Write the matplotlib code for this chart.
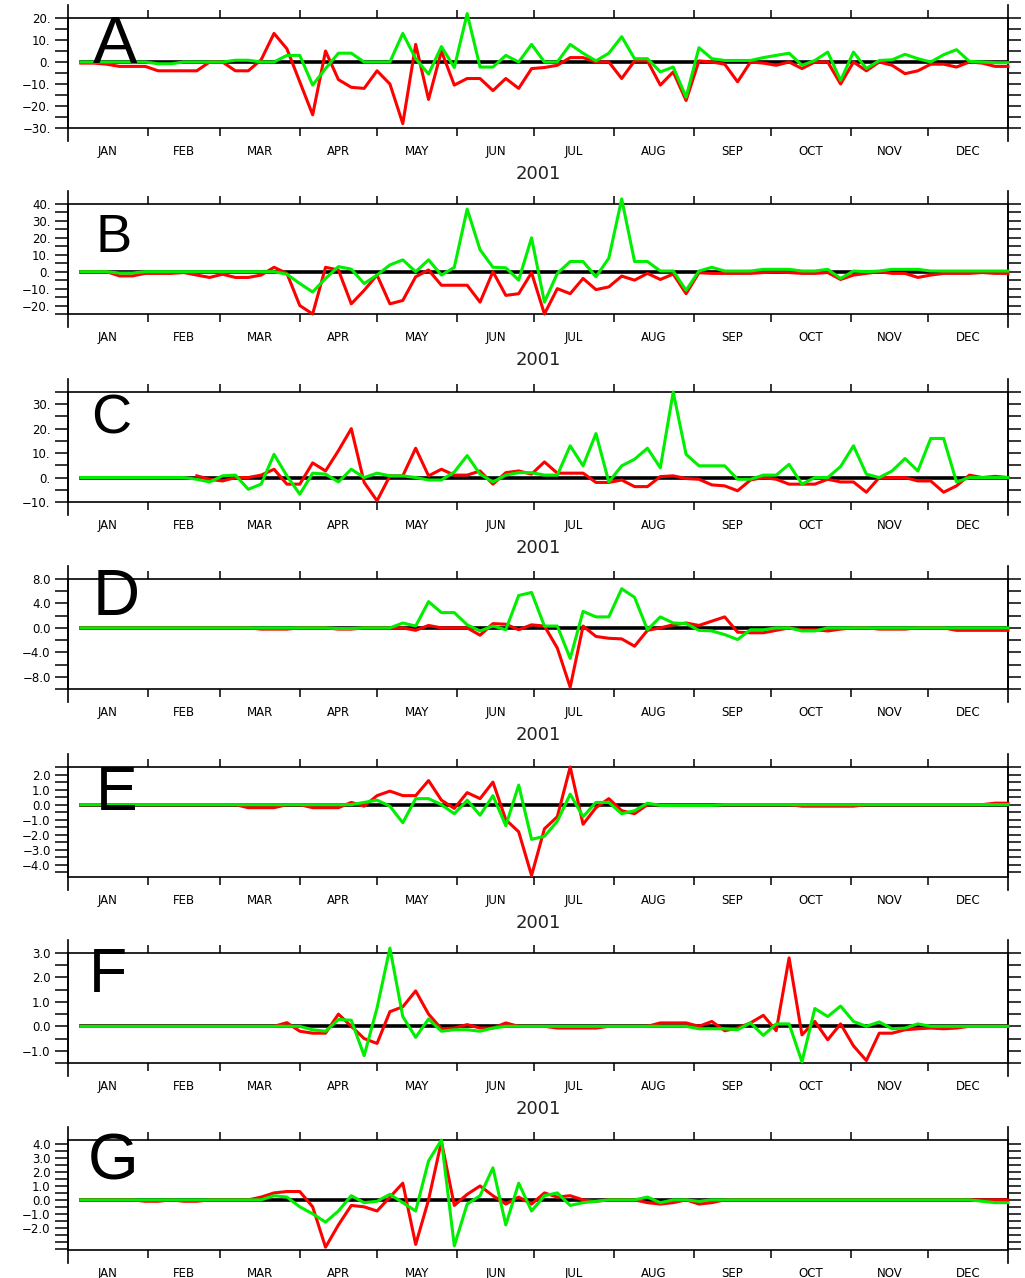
import numpy as np
import matplotlib
matplotlib.use('Agg')
import matplotlib.pyplot as plt

months = ['JAN', 'FEB', 'MAR', 'APR', 'MAY', 'JUN',
          'JUL', 'AUG', 'SEP', 'OCT', 'NOV', 'DEC']
month_start = [0, 31, 59, 90, 120, 151, 181, 212, 243, 273, 304, 334, 365]
year = '2001'
# 73 pentads, each plotted at its last day of the year
pentad_day = np.arange(5, 366, 5)
nan = np.nan

a_red = [-0.5, -0.5, -1, -2, -2, -2, -4, -4, -4, -4,
         0, 0, -4, -4, 1, 13, 6, -9, -24, 5,
         -8, -11.5, -12, -4, -10, -28, 8, -17, 5, -10.5,
         -7.5, -7.5, -13, -7.5, -12, -3, -2.5, -1.5, 2, 2,
         0, 0, -7.5, 0.5, 0.5, -10.5, -4.5, -17.5, 0.5, 0,
         -1, -9, 0, -0.5, -1.5, 0, -3, 0, 0, -10,
         0, -4, 0, -1.5, -5.3, -4, -1, -1, -2.3, 0,
         -0.5, -2, -2]
a_green = [0, 0, 0, 0, 0, 0, -0.8, -0.8, 0, 0,
           0, 0, 0.8, 0.8, 0, 0, 3, 3, -10.5, -3,
           4, 4, 0, 0, 0, 13, 1.5, -5.5, 7, -2.5,
           22, -2.3, -2.3, 3, 0, 8, 0, 0, 8, 4,
           0.5, 4, 11.5, 1.5, 1.5, -4.5, -2.3, -16, 6.5, 1.5,
           0.7, 0.7, 0.7, 2, 3, 4, -1.5, 0.7, 4.5, -8.4,
           4.5, -3, 0.7, 1, 3.5, 1.5, 0, 3.3, 5.6, 0.3,
           0, -0.3, -0.3]

b_red = [0, 0, 0, -2.5, -2.5, -1, -1, -1, -0.5, -2,
         -3.4, -1.5, -3.4, -3.4, -2, 2.6, -1, -20, -25, 2.6,
         1, -19, -11, -2, -19, -17, -3, 1, -8, -8,
         -8, -18, 0, -14, -13, -0.6, -25, -10, -13, -4,
         -10.6, -9, -2.6, -5, -1, -4.6, -1.4, -13, -0.6, -1,
         -1, -1, -1, -0.5, 0, -0.5, -1, -1, -0.5, -4.6,
         -2, -1, 0, -1, -1, -3.4, -2, -1, -1, -1,
         -0.5, -1, -1]
b_green = [0, 0, 0, -0.8, -0.8, 0, 0, 0, 0, 0,
           0, 0, 0, 0, 0, 0, -1.5, -7, -12, -4,
           3, 1.5, -7, -2, 4, 7, 0, 7, -2, 2.6,
           37, 13, 2.6, 2.3, -5, 20, -18, -1, 6, 6,
           -3, 8, 43, 6, 6, 0.4, 0.4, -11, 0.4, 2.6,
           0.4, 0.4, 0.4, 1.4, 1.4, 1.4, 0.4, 0.4, 1.4, -4,
           0.4, 0, 0.4, 1.4, 1.4, 1.4, 0.4, 0.4, 0.4, 0.4,
           0.4, 0.4, 0.4]

c_red = [nan, nan, nan, nan, nan, nan, nan, nan, nan, 0.7,
         -0.7, -1.4, 0, 0, 1, 3.4, -2.7, -2.7, 6, 2.7,
         11, 20, -2, -9.5, 0.7, 0.7, 12, 0.7, 3.4, 1,
         1, 2.7, -2.7, 2, 2.7, 1.4, 6.4, 1.8, 1.8, 1.8,
         -2, -2, -1, -3.7, -3.7, 0.4, 0.7, -0.4, -0.7, -3,
         -3.4, -5.4, -1, 0, -0.7, -2.7, -2.7, -2.7, -0.7, -1.8,
         -1.8, -6, 0, 0, 0, -1.4, -1.4, -6, -3.4, 1,
         0, 0.5, 0]
c_green = [0, 0, 0, 0, 0, 0, 0, 0, 0, -0.7,
           -1.8, 0.7, 1, -4.8, -2.7, 9.5, 0.7, -6.8, 1.8, 1.4,
           -1.8, 3.4, 0, 1.8, 0.7, 0.7, 0, -1, -1, 2.3,
           9, 1.4, -1.8, 1, 2, 2, 1, 1, 13, 4.8,
           18, -1.8, 4.8, 7.5, 12, 4, 35, 9.5, 4.8, 4.8,
           4.8, -0.7, -0.7, 1, 1, 5.4, -2.7, 0, 0, 4.5,
           13, 1.4, 0, 2.7, 7.8, 2.7, 16, 16, -1.8, 0,
           0, 0, 0]

d_red = [0, 0, 0, 0, 0, 0, 0, 0, 0, 0,
         0, 0, 0, 0, -0.2, -0.2, -0.2, 0, 0, 0,
         -0.2, -0.2, 0, 0, 0, 0, -0.4, 0.4, 0, 0,
         0, -1.2, 0.7, 0.6, -0.3, 0.5, 0.3, -3.3, -9.7, 0.3,
         -1.4, -1.7, -1.8, -3, -0.4, 0, 0.5, 0.8, 0.4, 1.1,
         1.8, -0.7, -0.8, -0.8, -0.4, 0, -0.3, -0.3, -0.5, -0.2,
         0, 0, -0.2, -0.2, -0.2, 0, 0, 0, -0.4, -0.4,
         -0.4, -0.4, -0.4]
d_green = [0, 0, 0, 0, 0, 0, 0, 0, 0, 0,
           0, 0, 0, 0, 0, 0, 0, 0, 0, 0,
           -0.1, -0.1, 0, 0, 0, 0.8, 0.3, 4.3, 2.5, 2.5,
           0.5, -0.5, 0.3, -0.3, 5.3, 5.8, 0.3, 0.3, -5, 2.7,
           1.8, 1.8, 6.4, 5, -0.3, 1.8, 0.8, 0.7, -0.4, -0.5,
           -1.1, -1.9, -0.3, -0.3, 0, 0, -0.5, -0.5, 0, 0,
           0, 0, 0, 0, 0, 0, 0, 0, 0, 0,
           0, 0, 0]

e_red = [0, 0, 0, 0, 0, 0, 0, 0, 0, 0,
         0, 0, 0, -0.2, -0.2, -0.2, 0, 0, -0.2, -0.2,
         -0.2, 0.15, -0.1, 0.6, 0.9, 0.6, 0.6, 1.6, 0.3, -0.25,
         0.8, 0.4, 1.5, -1.0, -1.8, -4.7, -1.6, -0.8, 2.5, -1.3,
         -0.2, 0.4, -0.4, -0.6, 0, 0, 0, 0, 0, 0,
         0, 0, 0, 0, 0, 0, -0.1, -0.1, -0.1, -0.1,
         -0.1, 0, 0, 0, 0, 0, 0, 0, 0, 0,
         0, 0.1, 0.1]
e_green = [0, 0, 0, 0, 0, 0, 0, 0, 0, 0,
           0, 0, 0, 0, 0, 0, 0, 0, 0, 0,
           0, 0, 0.15, 0.3, -0.1, -1.2, 0.4, 0.4, 0, -0.6,
           0.3, -0.7, 0.6, -1.4, 1.3, -2.3, -2.1, -1.1, 0.7, -0.8,
           0.15, 0.15, -0.6, -0.4, 0.1, -0.05, -0.05, -0.05, -0.05, -0.05,
           0, 0, 0, 0, 0, 0, 0, 0, 0, 0,
           0, 0, 0, 0, 0, 0, 0, 0, 0, 0,
           0, 0, 0]

f_red = [0, 0, 0, 0, 0, 0, 0, 0, 0, 0,
         0, 0, 0, 0, 0, 0, 0.15, -0.2, -0.28, -0.28,
         0.5, 0, -0.5, -0.7, 0.6, 0.8, 1.45, 0.5, -0.1, -0.07,
         0.07, -0.07, -0.07, 0.14, 0, 0, 0, -0.07, -0.07, -0.07,
         -0.07, 0, 0, 0, 0, 0.14, 0.14, 0.14, 0, 0.2,
         -0.18, -0.07, 0.14, 0.45, -0.18, 2.8, -0.35, 0.2, -0.55, 0.1,
         -0.8, -1.4, -0.28, -0.28, -0.14, -0.1, -0.07, -0.1, -0.07, 0,
         0, 0, 0]
f_green = [0, 0, 0, 0, 0, 0, 0, 0, 0, 0,
           0, 0, 0, 0, 0, 0, 0, 0, -0.14, -0.2,
           0.28, 0.25, -1.2, 0.75, 3.2, 0.4, -0.45, 0.3, -0.2, -0.14,
           -0.14, -0.2, -0.07, 0, 0, 0, 0, 0, 0, 0,
           0, 0, 0, 0, 0, 0, 0, 0, -0.1, -0.1,
           -0.1, -0.14, 0.14, -0.37, 0.1, 0.1, -1.45, 0.73, 0.4, 0.83,
           0.2, 0, 0.18, -0.1, -0.07, 0.1, 0, 0, 0, 0,
           0, 0, 0]

g_red = [0, 0, 0, 0, 0, -0.1, -0.1, 0, -0.1, -0.1,
         0, 0, 0, 0, 0.2, 0.5, 0.6, 0.6, -0.5, -3.4,
         -1.8, -0.4, -0.5, -0.8, 0.2, 1.2, -3.2, 0, 4.2, -0.4,
         0.4, 1.0, 0.3, -0.3, 0.2, -0.3, 0.5, 0.2, 0.3, 0,
         -0.1, 0, 0, 0, -0.2, -0.3, -0.2, 0, -0.3, -0.2,
         0, 0, 0, 0, 0, 0, 0, 0, 0, 0,
         0, 0, 0, 0, 0, 0, 0, 0, 0, 0,
         0, 0, 0]
g_green = [0, 0, 0, 0, 0, 0, 0, 0, 0, 0,
           0, 0, 0, 0, 0, 0.3, 0.2, -0.5, -1.0, -1.6,
           -0.8, 0.3, -0.2, -0.1, 0.4, -0.2, -0.8, 2.8, 4.3, -3.3,
           -0.3, 0.3, 2.3, -1.8, 1.2, -0.8, 0.3, 0.5, -0.4, -0.2,
           -0.1, 0, 0, 0, 0.2, -0.2, 0, 0, -0.1, 0,
           0, 0, 0, 0, 0, 0, 0, 0, 0, 0,
           0, 0, 0, 0, 0, 0, 0, 0, 0, 0,
           -0.1, -0.2, -0.2]

# letter, red, green, ylim, labelled ticks, minor step, decimals
panels = [
    ('A', a_red, a_green, (-30, 20), np.arange(-30, 21, 10), 5, 0),
    ('B', b_red, b_green, (-25, 40), np.arange(-20, 41, 10), 5, 0),
    ('C', c_red, c_green, (-10, 35), np.arange(-10, 31, 10), 5, 0),
    ('D', d_red, d_green, (-10, 8), np.arange(-8, 9, 4), 2, 1),
    ('E', e_red, e_green, (-4.8, 2.5), np.arange(-4, 3, 1), 0.5, 1),
    ('F', f_red, f_green, (-1.5, 3.0), np.arange(-1, 4, 1), 0.5, 1),
    ('G', g_red, g_green, (-3.6, 4.3), np.arange(-2, 5, 1), 0.5, 1),
]

W, H = 1025, 1278
LEFT, WIDTH, HEIGHT = 68, 940, 110
tops = [18, 204, 392, 579, 767, 953, 1140]
# letter left edge, baseline, font size
letter_pos = [(93, 63, 48), (96, 252, 39), (91, 433, 40), (93, 615, 47),
              (96, 810, 45), (89, 992, 45), (88, 1180, 47)]


def tick_label(v, nd):
    s = f'{abs(v):.{nd}f}' + ('.' if nd == 0 else '')
    return ('\u2212' if v < 0 else '') + s


def draw_panel(fig, top, panel, lpos, show_year=True):
    letter, red, green, ylim, major, step, nd = panel
    ax = fig.add_axes([LEFT / W, 1 - (top + HEIGHT) / H, WIDTH / W, HEIGHT / H])

    ax.plot(pentad_day, np.zeros(pentad_day.size), color='black', lw=2.6, zorder=2)
    ax.plot(pentad_day, red, color='#ff0000', lw=2.2, zorder=3, clip_on=False)
    ax.plot(pentad_day, green, color='#00ee00', lw=2.2, zorder=4, clip_on=False)

    ax.set_xlim(0, 365)
    ax.set_ylim(*ylim)

    ax.set_xticks(month_start[1:-1])
    ax.set_xticklabels([])
    mids = [(a + b) / 2 for a, b in zip(month_start[:-1], month_start[1:])]
    ax.set_xticks(mids, minor=True)
    ax.set_xticklabels(months, minor=True)
    ax.tick_params(axis='x', which='major', direction='out', length=6,
                   width=1.1, top=True, bottom=True)
    ax.tick_params(axis='x', which='minor', length=0, pad=12, labelsize=8.5)

    lo = np.ceil(ylim[0] / step) * step
    ax.set_yticks(major)
    ax.set_yticklabels([tick_label(v, nd) for v in major])
    ax.set_yticks(np.arange(lo, ylim[1] + 1e-9, step), minor=True)
    ax.tick_params(axis='y', which='both', direction='out', length=9.5,
                   width=1.1, left=True, right=True, labelsize=8.5, pad=3)

    for sp in ax.spines.values():
        sp.set_linewidth(1.2)
    ext = 13 / HEIGHT
    for xa in (0, 1):
        ax.plot([xa, xa], [-ext, 1 + ext], transform=ax.transAxes,
                color='black', lw=1.2, clip_on=False)

    # the bottom panel's year label falls below the picture's edge
    if show_year:
        ax.text(0.5, -46 / HEIGHT, year, transform=ax.transAxes, ha='center',
                va='center', fontsize=13, color='#222222')

    x, base, size = lpos
    fig.text(x / W, 1 - base / H, letter, fontsize=size, family='Liberation Sans',
             ha='left', va='baseline', color='black', zorder=10)


def main():
    fig = plt.figure(figsize=(W / 100, H / 100), dpi=100)
    n = len(panels)
    for k, (top, panel, lpos) in enumerate(zip(tops, panels, letter_pos)):
        draw_panel(fig, top, panel, lpos, show_year=(k < n - 1))
    fig.savefig('out.png', dpi=100)


if __name__ == '__main__':
    main()
